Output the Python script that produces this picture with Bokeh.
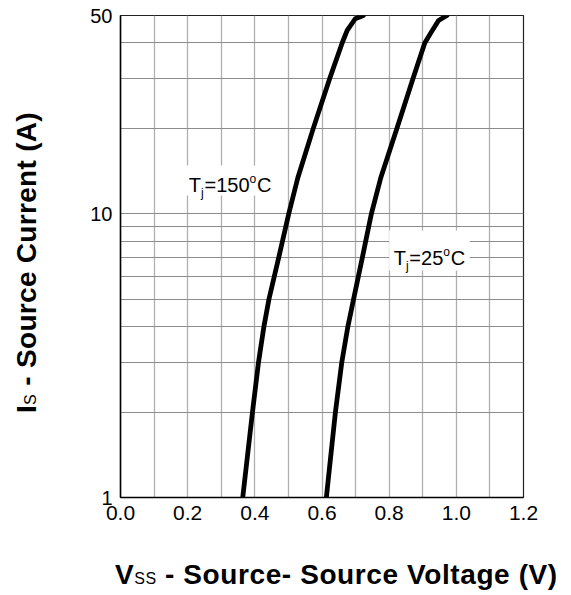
import math
from bokeh.plotting import figure
from bokeh.layouts import row, column
from bokeh.models import Range1d, FixedTicker, Label, BoxAnnotation, Div
from bokeh.embed import file_html
from bokeh.resources import INLINE

# ---- data ----
v_150 = [0.364, 0.393, 0.411, 0.427, 0.442, 0.471, 0.501, 0.528, 0.574, 0.623, 0.660, 0.675, 0.699, 0.723]
i_150 = [1, 2, 3, 4, 5, 7, 10, 13.4, 20, 30, 40, 44.3, 48.7, 50]
v_25 = [0.613, 0.640, 0.659, 0.677, 0.694, 0.720, 0.747, 0.775, 0.823, 0.871, 0.906, 0.925, 0.947, 0.972]
i_25 = [1, 2, 3, 4, 5, 7, 10, 13.4, 20, 30, 40, 43.6, 48, 50]

x_ticks = [0.0, 0.2, 0.4, 0.6, 0.8, 1.0, 1.2]
x_tick_labels = ["0.0", "0.2", "0.4", "0.6", "0.8", "1.0", "1.2"]
y_ticks = [1, 10, 50]
y_tick_labels = ["1", "10", "50"]
x_grid = [0.1, 0.2, 0.3, 0.4, 0.5, 0.6, 0.7, 0.8, 0.9, 1.0, 1.1]
y_grid = [2, 3, 4, 5, 6, 7, 8, 9, 10, 20, 30, 40]

x_title_main, x_title_sub, x_title_rest = "V", "SS", " - Source- Source Voltage (V)"
y_title_main, y_title_sub, y_title_rest = "I", "S", " - Source Current (A)"

FONT = "Liberation Sans"

p = figure(width=521, height=540, x_range=Range1d(0, 1.2), y_range=Range1d(1, 50),
           y_axis_type="log", output_backend="svg", toolbar_location=None,
           min_border_left=70, min_border_right=48, min_border_top=15, min_border_bottom=43,
           margin=(0, 0, 0, 0))
p.background_fill_color = "white"
p.border_fill_color = "white"
p.outline_line_color = "#222222"
p.outline_line_width = 1.2

# axes
p.xaxis.ticker = FixedTicker(ticks=x_ticks)
p.xaxis.major_label_overrides = dict(zip(x_ticks, x_tick_labels))
p.yaxis.ticker = FixedTicker(ticks=y_ticks)
p.yaxis.major_label_overrides = dict(zip(y_ticks, y_tick_labels))
for ax, fs in ((p.xaxis, "21px"), (p.yaxis, "20px")):
    ax.major_tick_line_color = None
    ax.minor_tick_line_color = None
    ax.major_tick_out = 0
    ax.major_tick_in = 0
    ax.axis_line_color = "black"
    ax.axis_line_width = 1.5
    ax.major_label_text_font = FONT
    ax.major_label_text_font_size = fs
    ax.major_label_text_color = "black"
    ax.major_label_standoff = 8

# grid
p.xgrid.ticker = FixedTicker(ticks=x_grid)
p.xgrid.grid_line_color = "#b0b0b0"
p.xgrid.grid_line_width = 1.3
p.ygrid.ticker = FixedTicker(ticks=y_grid)
p.ygrid.grid_line_color = "#8c8c8c"
p.ygrid.grid_line_width = 1.0

# white boxes behind the curve labels
p.add_layout(BoxAnnotation(left=0.1875, right=0.470, bottom=11.6, top=14.8,
                           fill_color="white", fill_alpha=1, line_alpha=0))
p.add_layout(BoxAnnotation(left=0.800, right=1.040, bottom=6.31, top=8.74,
                           fill_color="white", fill_alpha=1, line_alpha=0))

# curves
for v, i in ((v_150, i_150), (v_25, i_25)):
    p.line(v, i, line_color="black", line_width=4.8, line_join="round", line_cap="round")

# ---- rich text helper for the curve labels (Arial-like advance widths) ----
W_REG = {'T': .611, 'j': .222, '=': .584, 'o': .556, 'C': .722, ' ': .278}


def twidth(s, size):
    return sum(W_REG.get(ch, .556) for ch in s) * size


def rich(x, y, parts, gap=0.8):
    adv = 0.0
    for text, size, dy in parts:
        p.add_layout(Label(x=x, y=y, x_offset=adv, y_offset=dy, text=text,
                           text_font=FONT, text_font_size=f"{size}px",
                           text_color="black", text_align="left", text_baseline="alphabetic"))
        adv += twidth(text, size) + (gap if size < 16 else 0)


rich(0.2033, 12.65, [("T", 20, 0), ("j", 12, -8), ("=150", 20, 0), ("o", 12, 6), ("C", 20, 0)])
rich(0.8134, 6.97, [("T", 20, 0), ("j", 12, -8), ("=25", 20, 0), ("o", 12, 6), ("C", 20, 0)])

# ---- axis titles (HTML so that the subscripts can be smaller) ----
title_css = f"font-family:'{FONT}'; font-weight:bold; font-size:28px; line-height:28px; color:black; white-space:nowrap;"
sub_css = "font-size:16px; font-weight:normal; letter-spacing:0.5px;"

x_div = Div(text=(f"<div style=\"{title_css} letter-spacing:0.6px; width:max-content; margin-top:21px; margin-left:65px;\">"
                  f"{x_title_main}<span style=\"{sub_css}\">{x_title_sub}</span>{x_title_rest}</div>"),
            width=521, height=55, margin=(0, 0, 0, 0), styles={"overflow": "visible"})

y_div = Div(text=(f"<div style=\"{title_css} letter-spacing:0.3px; width:max-content; margin-top:413px; margin-left:13px; "
                  f"transform-origin:0 0; transform:rotate(-90deg);\">"
                  f"{y_title_main}<span style=\"{sub_css}\">{y_title_sub}</span>{y_title_rest}</div>"),
            width=50, height=595, margin=(0, 0, 0, 0), styles={"overflow": "visible"})

layout = row(y_div, column(p, x_div, spacing=0), spacing=0)

open("out.html", "w").write(file_html(layout, INLINE))
